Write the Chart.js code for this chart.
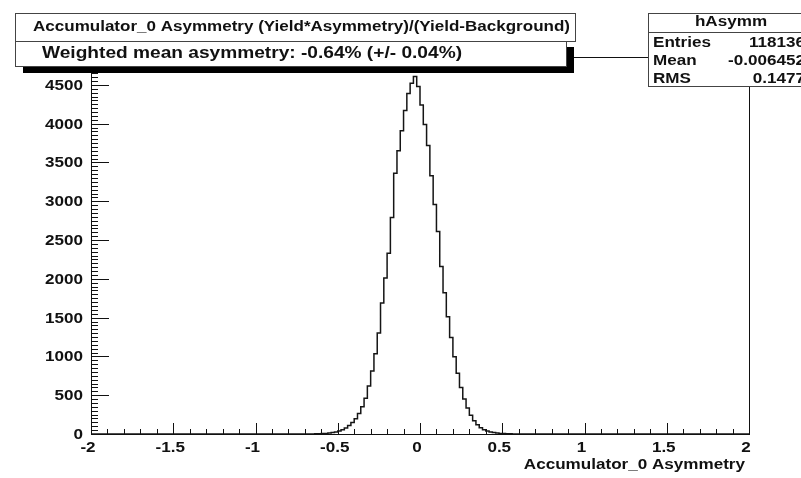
<!DOCTYPE html>
<html>
<head>
<meta charset="utf-8">
<script src="https://cdn.jsdelivr.net/npm/chart.js@4"></script>
<style>
  html, body { margin: 0; padding: 0; background: #fff; }
  canvas { display: block; }
</style>
</head>
<body>
<canvas id="hist" width="801" height="478"></canvas>
<script>
// histogram bins: 64 bins of width 0.02 starting at -0.64
const BIN_START = -0.64;
const BIN_WIDTH = 0.02;
const counts = [
  1, 2, 3, 5, 8, 12, 18, 27, 38, 54, 78, 108, 148, 196, 265, 352,
  462, 618, 812, 1036, 1302, 1688, 2010, 2330, 2790, 3360, 3650, 3910, 4170, 4390, 4520, 4610,
  4480, 4240, 3990, 3720, 3330, 2960, 2610, 2160, 1820, 1510, 1245, 996, 784, 598, 452, 336,
  242, 172, 118, 80, 56, 38, 26, 18, 12, 8, 5, 3, 2, 1, 1, 0
];
const xTicks = [-2, -1.5, -1, -0.5, 0, 0.5, 1, 1.5, 2];
const xTickLabels = ['-2', '-1.5', '-1', '-0.5', '0', '0.5', '1', '1.5', '2'];
const yTicks = [0, 500, 1000, 1500, 2000, 2500, 3000, 3500, 4000, 4500];
const yTickLabels = ['0', '500', '1000', '1500', '2000', '2500', '3000', '3500', '4000', '4500'];

const titleText = 'Accumulator_0 Asymmetry (Yield*Asymmetry)/(Yield-Background)';
const meanText = 'Weighted mean asymmetry: -0.64% (+/- 0.04%)';
const xTitle = 'Accumulator_0 Asymmetry';
const statsName = 'hAsymm';
const statsLabels = ['Entries', 'Mean', 'RMS'];
const statsValues = ['118136', '-0.006452', '0.1477'];

// step outline: start at -2 on zero, one point per bin low edge, close at 2
const points = [{ x: -2, y: 0 }];
counts.forEach((c, i) => points.push({ x: BIN_START + i * BIN_WIDTH, y: c }));
points.push({ x: BIN_START + counts.length * BIN_WIDTH, y: 0 });
points.push({ x: 2, y: 0 });

const FONT = '"Liberation Sans", Arial, sans-serif';
const SX = 1.22; // the picture's lettering is a bit wide

function txt(ctx, s, x, y, align, size, sx) {
  ctx.save();
  ctx.font = 'bold ' + size + 'px ' + FONT;
  ctx.textAlign = align;
  ctx.textBaseline = 'middle';
  ctx.translate(x, y);
  ctx.scale(sx, 1);
  ctx.fillText(s, 0, 0);
  ctx.restore();
}
// stretch text so it spans a given width
function fitTxt(ctx, s, x, y, size, w) {
  ctx.save();
  ctx.font = 'bold ' + size + 'px ' + FONT;
  const m = ctx.measureText(s).width;
  ctx.restore();
  txt(ctx, s, x, y, 'left', size, w / m);
}

const rootFrame = {
  id: 'rootFrame',
  beforeDatasetsDraw(chart) {
    const ctx = chart.ctx;
    const a = chart.chartArea;
    const xs = chart.scales.x, ys = chart.scales.y;
    ctx.save();
    ctx.strokeStyle = '#111';
    ctx.lineWidth = 1;
    ctx.strokeRect(Math.round(a.left) + 0.5, Math.round(a.top) + 0.5,
      Math.round(a.right - a.left), Math.round(a.bottom - a.top));
    ctx.beginPath();
    // x axis ticks, pointing up into the frame
    for (let k = -20; k <= 20; k++) {
      const px = Math.round(xs.getPixelForValue(k / 10)) + 0.5;
      const len = (k % 5 === 0) ? 11 : 5;
      ctx.moveTo(px, a.bottom);
      ctx.lineTo(px, a.bottom - len);
    }
    // y axis ticks, pointing right into the frame
    for (let v = 0; v <= 4850; v += 50) {
      const py = Math.round(ys.getPixelForValue(v)) + 0.5;
      const len = (v % 500 === 0) ? 18 : 7;
      ctx.moveTo(a.left, py);
      ctx.lineTo(a.left + len, py);
    }
    ctx.stroke();
    ctx.restore();
  },
  afterDraw(chart) {
    const ctx = chart.ctx;
    const a = chart.chartArea;
    const xs = chart.scales.x, ys = chart.scales.y;
    ctx.save();
    ctx.fillStyle = '#111';
    yTicks.forEach((v, i) => txt(ctx, yTickLabels[i], 83, ys.getPixelForValue(v) + 1, 'right', 14, SX));
    xTicks.forEach((v, i) => txt(ctx, xTickLabels[i], xs.getPixelForValue(v) - 3, 448, 'center', 14, SX));
    txt(ctx, xTitle, 745, 465, 'right', 14, SX);

    // title + weighted mean boxes
    ctx.fillStyle = '#000';
    ctx.fillRect(23, 67, 551, 6);
    ctx.fillRect(567, 47, 7, 26);
    ctx.fillStyle = '#fff';
    ctx.strokeStyle = '#444';
    ctx.lineWidth = 1;
    ctx.fillRect(15, 41, 552, 26);
    ctx.strokeRect(15.5, 41.5, 551, 25);
    ctx.fillRect(15, 13, 561, 28);
    ctx.strokeRect(15.5, 13.5, 560, 28);
    ctx.fillStyle = '#111';
    fitTxt(ctx, titleText, 33, 27, 14, 537);
    fitTxt(ctx, meanText, 42, 54, 16, 420);

    // stats box
    ctx.fillStyle = '#fff';
    ctx.fillRect(648, 13, 170, 74);
    ctx.strokeStyle = '#444';
    ctx.strokeRect(648.5, 13.5, 170, 73);
    ctx.beginPath();
    ctx.moveTo(648, 32.5);
    ctx.lineTo(801, 32.5);
    ctx.stroke();
    ctx.fillStyle = '#111';
    txt(ctx, statsName, 731, 22, 'center', 14, SX);
    statsLabels.forEach((s, i) => {
      const y = 43 + i * 18;
      txt(ctx, s, 653, y, 'left', 14, SX);
      txt(ctx, statsValues[i], 805, y, 'right', 14, SX);
    });
    ctx.restore();
  }
};

new Chart(document.getElementById('hist').getContext('2d'), {
  type: 'line',
  data: {
    datasets: [{
      data: points,
      stepped: 'after',
      borderColor: '#151515',
      borderWidth: 1.5,
      pointRadius: 0,
      fill: false
    }]
  },
  options: {
    responsive: false,
    animation: false,
    layout: { padding: { top: 57, right: 52, left: 0, bottom: 0 } },
    plugins: {
      legend: { display: false },
      title: { display: false },
      tooltip: { enabled: false }
    },
    scales: {
      x: {
        type: 'linear',
        min: -2,
        max: 2,
        grid: { display: false },
        border: { display: false },
        ticks: { display: false },
        afterFit: s => { s.height = 44; }
      },
      y: {
        min: 0,
        max: 4860,
        grid: { display: false },
        border: { display: false },
        ticks: { display: false },
        afterFit: s => { s.width = 91; }
      }
    }
  },
  plugins: [rootFrame]
});
</script>
</body>
</html>
